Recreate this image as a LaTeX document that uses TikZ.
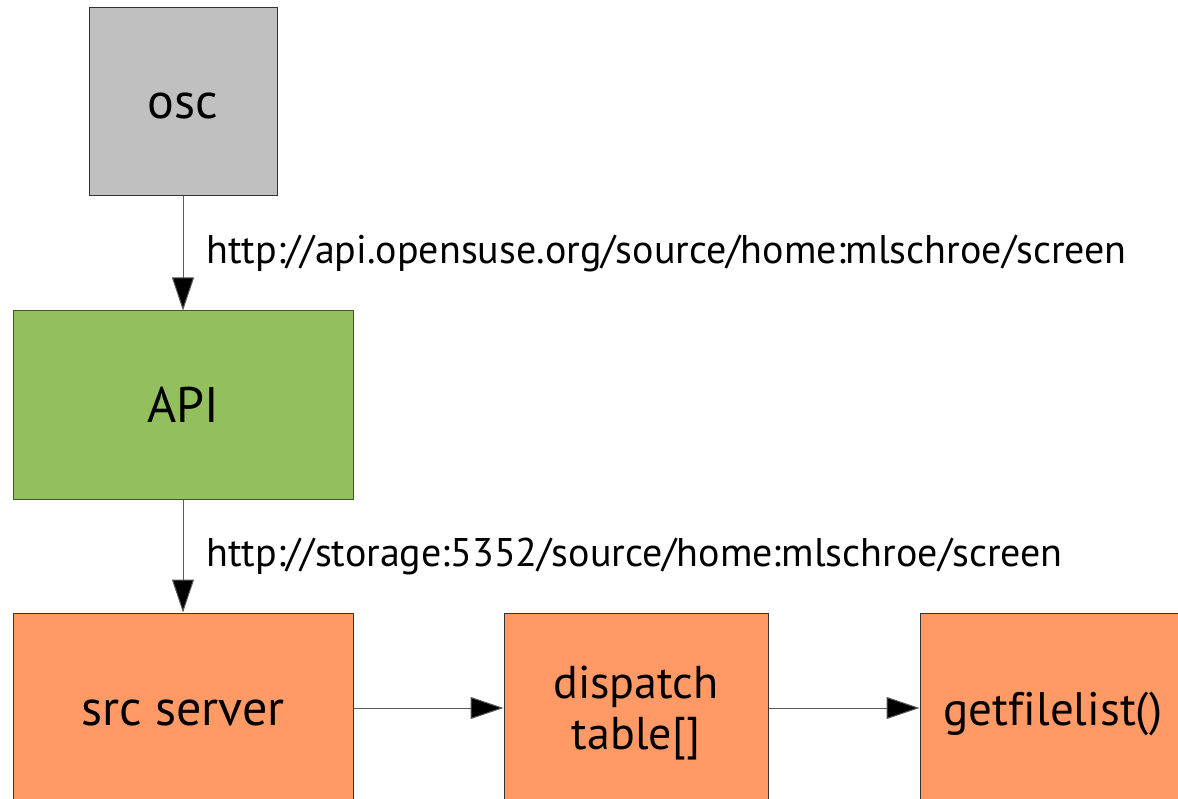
\documentclass[tikz,border=0pt]{standalone}
\usepackage{fontspec}
\setmainfont[Ligatures=NoCommon]{PT Sans}
\usetikzlibrary{arrows.meta}
\definecolor{boxgray}{HTML}{C0C0C0}
\definecolor{boxgreen}{HTML}{93BF5F}
\definecolor{boxgreenline}{HTML}{3E5A22}
\definecolor{boxorange}{HTML}{FF9966}
\definecolor{linegray}{HTML}{5A5A5A}
\tikzset{
  block/.style={draw=black!80, line width=1pt, rectangle, inner sep=0pt,
    align=center, font=\fontsize{50}{51}\selectfont},
  oneline/.style={text height=37pt, text depth=3pt},
  flow/.style={draw=linegray, line width=1pt,
    -{Triangle[width=22pt,length=33pt,fill=black]}},
  urllabel/.style={anchor=west, xshift=23pt, inner sep=0pt,
    font=\fontsize{40}{44}\selectfont}
}
\begin{document}
\begin{tikzpicture}[x=1pt,y=-1pt]
  \useasboundingbox (0,0) rectangle (1178,799);
  \clip (0,0) rectangle (1178,799);

  % client, frontend and backend boxes
  \node[block, oneline, fill=boxgray, minimum width=188pt, minimum height=188pt]
    (osc) at (183,102) {osc};
  \node[block, oneline, fill=boxgreen, draw=boxgreenline, minimum width=340pt, minimum height=188pt]
    (api) at (183,405) {API};
  \node[block, oneline, fill=boxorange, minimum width=340pt, minimum height=190pt]
    (src) at (183,708) {src server};
  % the strut on the first line sets the two lines a little lower in the box
  \node[block, fill=boxorange, minimum width=264pt, minimum height=190pt,
        font=\fontsize{46}{51}\selectfont]
    (disp) at (636,708) {\rule{0pt}{42pt}dispatch\\table[]};
  \node[block, oneline, fill=boxorange, minimum width=266pt, minimum height=190pt,
        font=\fontsize{47}{51}\selectfont]
    (gfl) at (1053,708) {getfilelist()};

  % request path
  \draw[flow] (osc) -- node[urllabel] {http://api.opensuse.org/source/home:mlschroe/screen} (api);
  \draw[flow] (api) -- node[urllabel] {http://storage:5352/source/home:mlschroe/screen} (src);
  \draw[flow] (src) -- (disp);
  \draw[flow] (disp) -- (gfl);
\end{tikzpicture}
\end{document}
